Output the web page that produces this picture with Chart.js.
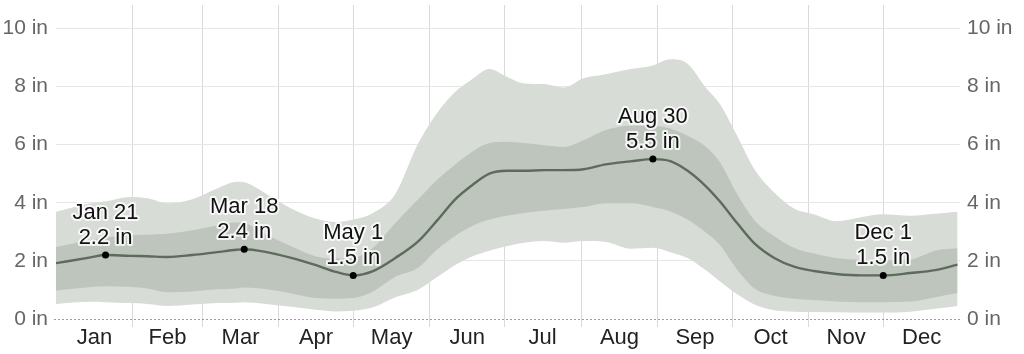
<!DOCTYPE html>
<html>
<head>
<meta charset="utf-8">
<script src="https://cdn.jsdelivr.net/npm/chart.js@4.4.1/dist/chart.umd.min.js"></script>
<style>
  html, body { margin: 0; padding: 0; background: #fff; }
  #wrap { width: 1024px; height: 354px; position: relative; }
</style>
</head>
<body>
<div id="wrap"><canvas id="rain" width="1024" height="354"></canvas></div>
<script>
// day of year (0 = Jan 1) for each sample
const days = [0, 14, 20, 30, 37, 45, 55, 65, 73, 76, 85, 95, 105, 113, 120, 128, 137, 146, 154, 161,
  168, 175, 182, 189, 197, 205, 213, 222, 232, 241, 248, 255, 262, 268, 275, 282, 290, 298, 306, 315,
  325, 334, 345, 355, 364];

// 90th percentile
const p90 = [3.69, 3.98, 4.05, 4.2, 4.15, 3.98, 4.12, 4.49, 4.72, 4.7, 4.3, 3.8, 3.45, 3.34, 3.42, 3.65, 4.3, 6.0, 7.1, 7.8,
  8.25, 8.6, 8.33, 8.1, 8.08, 7.96, 8.28, 8.42, 8.6, 8.72, 8.93, 8.78, 8.0, 7.4, 6.3, 5.15, 4.35, 3.8, 3.6, 3.36,
  3.5, 3.6, 3.55, 3.62, 3.69];
// 75th percentile
const p75 = [2.48, 2.72, 2.8, 2.88, 2.9, 2.93, 3.05, 3.22, 3.32, 3.3, 2.9, 2.5, 2.15, 2.08, 2.1, 2.45, 3.3, 4.1, 4.8, 5.3,
  5.75, 6.05, 6.1, 6.05, 5.98, 5.92, 6.15, 6.5, 6.65, 6.65, 6.55, 6.3, 5.95, 5.4, 4.3, 3.4, 2.85, 2.45, 2.25, 2.1,
  2.03, 2.02, 2.05, 2.35, 2.43];
// median
const p50 = [1.92, 2.12, 2.2, 2.17, 2.16, 2.13, 2.2, 2.3, 2.38, 2.4, 2.3, 2.1, 1.85, 1.62, 1.5, 1.65, 2.1, 2.65, 3.4, 4.1,
  4.6, 5.0, 5.1, 5.1, 5.12, 5.12, 5.15, 5.32, 5.42, 5.5, 5.43, 5.1, 4.6, 4.05, 3.3, 2.6, 2.1, 1.8, 1.65, 1.55,
  1.5, 1.5, 1.58, 1.68, 1.87];
// 25th percentile
const p25 = [0.98, 1.1, 1.13, 1.1, 1.05, 0.92, 0.95, 1.02, 1.05, 1.08, 1.02, 0.88, 0.72, 0.7, 0.72, 0.95, 1.45, 1.75, 2.4, 2.85,
  3.2, 3.42, 3.55, 3.65, 3.72, 3.78, 3.85, 3.98, 3.98, 3.85, 3.7, 3.42, 3.0, 2.55, 1.7, 1.05, 0.8, 0.7, 0.65, 0.6,
  0.58, 0.58, 0.6, 0.75, 0.89];
// 10th percentile
const p10 = [0.52, 0.59, 0.58, 0.55, 0.52, 0.45, 0.5, 0.55, 0.56, 0.58, 0.52, 0.42, 0.32, 0.26, 0.28, 0.4, 0.75, 1.0, 1.45, 1.85,
  2.15, 2.35, 2.5, 2.62, 2.68, 2.62, 2.68, 2.65, 2.42, 2.45, 2.3, 2.1, 1.7, 1.3, 0.85, 0.5, 0.3, 0.25, 0.24, 0.23,
  0.22, 0.22, 0.25, 0.35, 0.45];

const monthNames = ['Jan', 'Feb', 'Mar', 'Apr', 'May', 'Jun', 'Jul', 'Aug', 'Sep', 'Oct', 'Nov', 'Dec'];
const monthStarts = [0, 31, 59, 90, 120, 151, 181, 212, 243, 273, 304, 334, 365];
const yTicks = [0, 2, 4, 6, 8, 10];

const annoDays = [20, 76, 120, 241, 334];
const annoDates = ['Jan 21', 'Mar 18', 'May 1', 'Aug 30', 'Dec 1'];
const annoValues = [2.2, 2.4, 1.5, 5.5, 1.5];

const toPts = arr => arr.map((v, i) => ({ x: days[i], y: v }));

// x ticks: month boundaries carry the grid, mid-months carry the labels
const xTicks = [];
for (let m = 0; m < 12; m++) {
  if (m > 0) xTicks.push({ value: monthStarts[m], label: '', grid: true });
  xTicks.push({ value: (monthStarts[m] + monthStarts[m + 1]) / 2, label: monthNames[m], grid: false });
}

const FONT_FAMILY = '"Liberation Sans", Arial, sans-serif';
const xFont = { family: FONT_FAMILY, size: 22 };
const yFont = { family: FONT_FAMILY, size: 21 };

// dashed zero line + point labels
const annoPlugin = {
  id: 'annoLabels',
  beforeDatasetsDraw(chart) {
    const ctx = chart.ctx, area = chart.chartArea;
    const y0 = Math.round(chart.scales.y.getPixelForValue(0)) + 0.5;
    ctx.save();
    ctx.strokeStyle = '#9a9a9a';
    ctx.lineWidth = 1;
    ctx.setLineDash([2, 2]);
    ctx.beginPath();
    ctx.moveTo(area.left - 2, y0);
    ctx.lineTo(area.right, y0);
    ctx.stroke();
    ctx.restore();
  },
  afterDatasetsDraw(chart) {
    const ctx = chart.ctx;
    const xs = chart.scales.x, ys = chart.scales.y;
    ctx.save();
    ctx.font = '22px ' + FONT_FAMILY;
    ctx.textAlign = 'center';
    ctx.textBaseline = 'alphabetic';
    ctx.lineJoin = 'round';
    annoDays.forEach((d, i) => {
      const px = xs.getPixelForValue(d);
      const py = ys.getPixelForValue(annoValues[i]);
      const lines = [[annoDates[i], py - 36], [annoValues[i] + ' in', py - 11]];
      lines.forEach(([t, ty]) => {
        ctx.strokeStyle = 'rgba(255,255,255,0.8)';
        ctx.lineWidth = 4;
        ctx.strokeText(t, px, ty);
        ctx.fillStyle = '#111';
        ctx.fillText(t, px, ty);
      });
    });
    ctx.restore();
  }
};

const noPad = s => { s.paddingTop = 0; s.paddingBottom = 0; };

new Chart(document.getElementById('rain'), {
  type: 'line',
  data: {
    datasets: [
      {
        label: 'marks', data: annoDays.map((d, i) => ({ x: d, y: annoValues[i] })),
        showLine: false, pointRadius: 3.5, pointBackgroundColor: '#000', pointBorderWidth: 0, order: 0
      },
      {
        label: 'median', data: toPts(p50), borderColor: '#5d6b5b', borderWidth: 2.4,
        pointRadius: 0, cubicInterpolationMode: 'monotone', fill: false, order: 1
      },
      {
        label: 'p75', data: toPts(p75), borderWidth: 0, pointRadius: 0,
        cubicInterpolationMode: 'monotone', fill: '+1', backgroundColor: '#bec5bd', order: 2
      },
      {
        label: 'p25', data: toPts(p25), borderWidth: 0, pointRadius: 0,
        cubicInterpolationMode: 'monotone', fill: false, order: 3
      },
      {
        label: 'p90', data: toPts(p90), borderWidth: 0, pointRadius: 0,
        cubicInterpolationMode: 'monotone', fill: '+1', backgroundColor: '#d7dcd6', order: 4
      },
      {
        label: 'p10', data: toPts(p10), borderWidth: 0, pointRadius: 0,
        cubicInterpolationMode: 'monotone', fill: false, order: 5
      }
    ]
  },
  options: {
    responsive: false,
    animation: false,
    events: [],
    layout: { padding: { top: 5, left: 0, right: 0, bottom: 0 } },
    plugins: { legend: { display: false }, tooltip: { enabled: false } },
    scales: {
      x: {
        type: 'linear', min: 0, max: 365,
        afterBuildTicks: s => { s.ticks = xTicks.map(t => ({ value: t.value })); },
        afterFit: s => { s.height = 35; s.paddingLeft = 0; s.paddingRight = 0; },
        grid: {
          color: c => (xTicks[c.index] && xTicks[c.index].grid ? '#dadada' : 'rgba(0,0,0,0)'),
          tickColor: c => (xTicks[c.index] && xTicks[c.index].grid ? '#dadada' : 'rgba(0,0,0,0)'),
          tickLength: 8, lineWidth: 1
        },
        border: { display: false },
        ticks: {
          autoSkip: false, maxRotation: 0, padding: -2, color: '#222', font: xFont,
          callback: (v, i) => xTicks[i].label
        }
      },
      y: {
        position: 'left', min: 0, max: 10.8,
        afterBuildTicks: s => { s.ticks = yTicks.map(v => ({ value: v })); },
        afterFit: s => { s.width = 56; noPad(s); },
        grid: { color: c => (c.tick && c.tick.value === 0 ? 'rgba(0,0,0,0)' : '#e6e6e6'), drawTicks: false },
        border: { display: false },
        ticks: { padding: 8, color: '#666', font: yFont, callback: v => v + ' in' }
      },
      y2: {
        position: 'right', min: 0, max: 10.8,
        afterBuildTicks: s => { s.ticks = yTicks.map(v => ({ value: v })); },
        afterFit: s => { s.width = 64; noPad(s); },
        grid: { display: false, drawTicks: false },
        border: { display: false },
        ticks: { padding: 7, color: '#666', font: yFont, callback: v => v + ' in' }
      }
    }
  },
  plugins: [annoPlugin]
});
</script>
</body>
</html>
